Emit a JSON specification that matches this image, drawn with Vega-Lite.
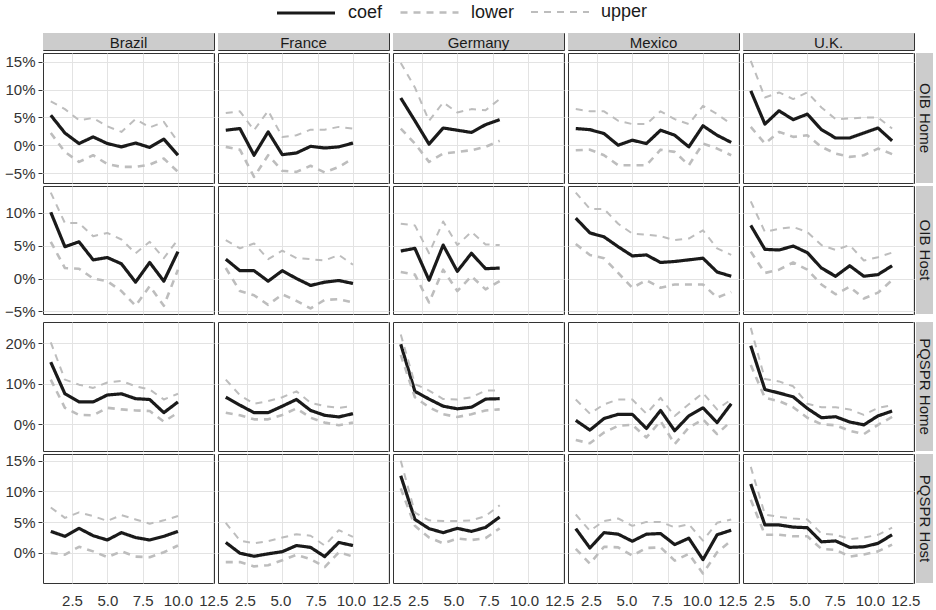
{
"$schema": "https://vega.github.io/schema/vega-lite/v6.json",
"padding": {"left": 4, "top": 1, "right": 0, "bottom": 0},
"datasets": {
"cn": [{"c":"Brazil"},{"c":"France"},{"c":"Germany"},{"c":"Mexico"},{"c":"U.K."}],
"d": [
{"m":"OIB Home","c":"Brazil","x":1,"coef":5.4,"lower":2.2,"upper":7.9},
{"m":"OIB Home","c":"Brazil","x":2,"coef":2.2,"lower":-1.2,"upper":6.5},
{"m":"OIB Home","c":"Brazil","x":3,"coef":0.3,"lower":-3.0,"upper":4.5},
{"m":"OIB Home","c":"Brazil","x":4,"coef":1.5,"lower":-1.8,"upper":4.9},
{"m":"OIB Home","c":"Brazil","x":5,"coef":0.3,"lower":-3.4,"upper":3.4},
{"m":"OIB Home","c":"Brazil","x":6,"coef":-0.3,"lower":-3.9,"upper":2.4},
{"m":"OIB Home","c":"Brazil","x":7,"coef":0.4,"lower":-3.9,"upper":4.7},
{"m":"OIB Home","c":"Brazil","x":8,"coef":-0.4,"lower":-3.5,"upper":3.2},
{"m":"OIB Home","c":"Brazil","x":9,"coef":1.1,"lower":-2.4,"upper":4.2},
{"m":"OIB Home","c":"Brazil","x":10,"coef":-1.8,"lower":-4.8,"upper":0.6},
{"m":"OIB Home","c":"France","x":1,"coef":2.7,"lower":-0.3,"upper":5.8},
{"m":"OIB Home","c":"France","x":2,"coef":3.0,"lower":-0.8,"upper":6.1},
{"m":"OIB Home","c":"France","x":3,"coef":-1.8,"lower":-5.7,"upper":2.7},
{"m":"OIB Home","c":"France","x":4,"coef":2.4,"lower":-1.8,"upper":6.2},
{"m":"OIB Home","c":"France","x":5,"coef":-1.7,"lower":-4.6,"upper":1.5},
{"m":"OIB Home","c":"France","x":6,"coef":-1.4,"lower":-4.8,"upper":1.8},
{"m":"OIB Home","c":"France","x":7,"coef":-0.2,"lower":-3.7,"upper":2.8},
{"m":"OIB Home","c":"France","x":8,"coef":-0.5,"lower":-4.9,"upper":2.8},
{"m":"OIB Home","c":"France","x":9,"coef":-0.3,"lower":-3.9,"upper":3.3},
{"m":"OIB Home","c":"France","x":10,"coef":0.4,"lower":-2.4,"upper":3.0},
{"m":"OIB Home","c":"Germany","x":1,"coef":8.5,"lower":3.0,"upper":14.8},
{"m":"OIB Home","c":"Germany","x":2,"coef":4.4,"lower":0.3,"upper":10.4},
{"m":"OIB Home","c":"Germany","x":3,"coef":0.2,"lower":-3.0,"upper":4.4},
{"m":"OIB Home","c":"Germany","x":4,"coef":3.1,"lower":-1.5,"upper":7.7},
{"m":"OIB Home","c":"Germany","x":5,"coef":2.7,"lower":-1.2,"upper":5.9},
{"m":"OIB Home","c":"Germany","x":6,"coef":2.3,"lower":-0.9,"upper":6.5},
{"m":"OIB Home","c":"Germany","x":7,"coef":3.7,"lower":-0.3,"upper":6.3},
{"m":"OIB Home","c":"Germany","x":8,"coef":4.6,"lower":0.8,"upper":8.3},
{"m":"OIB Home","c":"Mexico","x":1,"coef":3.0,"lower":-0.9,"upper":6.5},
{"m":"OIB Home","c":"Mexico","x":2,"coef":2.8,"lower":-0.8,"upper":6.1},
{"m":"OIB Home","c":"Mexico","x":3,"coef":2.1,"lower":-1.8,"upper":6.1},
{"m":"OIB Home","c":"Mexico","x":4,"coef":0.0,"lower":-3.6,"upper":4.4},
{"m":"OIB Home","c":"Mexico","x":5,"coef":0.9,"lower":-3.6,"upper":3.8},
{"m":"OIB Home","c":"Mexico","x":6,"coef":0.3,"lower":-3.6,"upper":3.8},
{"m":"OIB Home","c":"Mexico","x":7,"coef":2.7,"lower":-0.8,"upper":6.1},
{"m":"OIB Home","c":"Mexico","x":8,"coef":1.8,"lower":-1.2,"upper":4.7},
{"m":"OIB Home","c":"Mexico","x":9,"coef":-0.3,"lower":-3.6,"upper":3.8},
{"m":"OIB Home","c":"Mexico","x":10,"coef":3.5,"lower":0.3,"upper":7.1},
{"m":"OIB Home","c":"Mexico","x":11,"coef":1.8,"lower":-0.6,"upper":5.6},
{"m":"OIB Home","c":"Mexico","x":12,"coef":0.5,"lower":-1.8,"upper":3.8},
{"m":"OIB Home","c":"U.K.","x":1,"coef":9.8,"lower":3.3,"upper":15.2},
{"m":"OIB Home","c":"U.K.","x":2,"coef":3.8,"lower":0.3,"upper":8.6},
{"m":"OIB Home","c":"U.K.","x":3,"coef":6.2,"lower":2.4,"upper":9.5},
{"m":"OIB Home","c":"U.K.","x":4,"coef":4.6,"lower":1.5,"upper":8.3},
{"m":"OIB Home","c":"U.K.","x":5,"coef":5.6,"lower":1.8,"upper":9.5},
{"m":"OIB Home","c":"U.K.","x":6,"coef":2.8,"lower":-0.3,"upper":6.8},
{"m":"OIB Home","c":"U.K.","x":7,"coef":1.3,"lower":-1.5,"upper":4.7},
{"m":"OIB Home","c":"U.K.","x":8,"coef":1.3,"lower":-2.1,"upper":4.8},
{"m":"OIB Home","c":"U.K.","x":9,"coef":2.2,"lower":-1.8,"upper":5.0},
{"m":"OIB Home","c":"U.K.","x":10,"coef":3.1,"lower":-0.6,"upper":5.0},
{"m":"OIB Home","c":"U.K.","x":11,"coef":0.8,"lower":-1.6,"upper":3.0},
{"m":"OIB Host","c":"Brazil","x":1,"coef":10.1,"lower":5.6,"upper":13.1},
{"m":"OIB Host","c":"Brazil","x":2,"coef":4.85,"lower":1.6,"upper":8.45},
{"m":"OIB Host","c":"Brazil","x":3,"coef":5.6,"lower":1.5,"upper":8.45},
{"m":"OIB Host","c":"Brazil","x":4,"coef":2.85,"lower":0.0,"upper":6.45},
{"m":"OIB Host","c":"Brazil","x":5,"coef":3.2,"lower":-0.4,"upper":6.95},
{"m":"OIB Host","c":"Brazil","x":6,"coef":2.25,"lower":-1.9,"upper":5.95},
{"m":"OIB Host","c":"Brazil","x":7,"coef":-0.55,"lower":-4.15,"upper":3.85},
{"m":"OIB Host","c":"Brazil","x":8,"coef":2.45,"lower":-1.15,"upper":5.6},
{"m":"OIB Host","c":"Brazil","x":9,"coef":-0.4,"lower":-4.15,"upper":3.1},
{"m":"OIB Host","c":"Brazil","x":10,"coef":4.1,"lower":1.35,"upper":5.95},
{"m":"OIB Host","c":"France","x":1,"coef":2.95,"lower":1.6,"upper":5.85},
{"m":"OIB Host","c":"France","x":2,"coef":1.2,"lower":-1.9,"upper":4.6},
{"m":"OIB Host","c":"France","x":3,"coef":1.2,"lower":-2.55,"upper":5.35},
{"m":"OIB Host","c":"France","x":4,"coef":-0.4,"lower":-4.0,"upper":2.95},
{"m":"OIB Host","c":"France","x":5,"coef":1.2,"lower":-2.4,"upper":4.25},
{"m":"OIB Host","c":"France","x":6,"coef":0.0,"lower":-3.4,"upper":3.1},
{"m":"OIB Host","c":"France","x":7,"coef":-1.05,"lower":-4.55,"upper":2.95},
{"m":"OIB Host","c":"France","x":8,"coef":-0.55,"lower":-3.25,"upper":2.75},
{"m":"OIB Host","c":"France","x":9,"coef":-0.3,"lower":-3.15,"upper":3.6},
{"m":"OIB Host","c":"France","x":10,"coef":-0.75,"lower":-3.65,"upper":2.1},
{"m":"OIB Host","c":"Germany","x":1,"coef":4.2,"lower":1.0,"upper":8.35},
{"m":"OIB Host","c":"Germany","x":2,"coef":4.6,"lower":0.6,"upper":8.1},
{"m":"OIB Host","c":"Germany","x":3,"coef":-0.25,"lower":-3.65,"upper":3.85},
{"m":"OIB Host","c":"Germany","x":4,"coef":5.1,"lower":1.35,"upper":8.7},
{"m":"OIB Host","c":"Germany","x":5,"coef":1.1,"lower":-1.9,"upper":5.1},
{"m":"OIB Host","c":"Germany","x":6,"coef":3.85,"lower":0.35,"upper":7.1},
{"m":"OIB Host","c":"Germany","x":7,"coef":1.5,"lower":-1.65,"upper":5.2},
{"m":"OIB Host","c":"Germany","x":8,"coef":1.6,"lower":-0.4,"upper":5.1},
{"m":"OIB Host","c":"Mexico","x":1,"coef":9.2,"lower":5.25,"upper":13.1},
{"m":"OIB Host","c":"Mexico","x":2,"coef":6.95,"lower":3.6,"upper":10.6},
{"m":"OIB Host","c":"Mexico","x":3,"coef":6.35,"lower":3.1,"upper":10.6},
{"m":"OIB Host","c":"Mexico","x":4,"coef":4.85,"lower":0.85,"upper":8.35},
{"m":"OIB Host","c":"Mexico","x":5,"coef":3.45,"lower":-1.4,"upper":6.85},
{"m":"OIB Host","c":"Mexico","x":6,"coef":3.6,"lower":-0.25,"upper":6.7},
{"m":"OIB Host","c":"Mexico","x":7,"coef":2.45,"lower":-1.4,"upper":6.45},
{"m":"OIB Host","c":"Mexico","x":8,"coef":2.6,"lower":-0.9,"upper":5.85},
{"m":"OIB Host","c":"Mexico","x":9,"coef":2.85,"lower":-0.9,"upper":6.1},
{"m":"OIB Host","c":"Mexico","x":10,"coef":3.1,"lower":-0.9,"upper":7.35},
{"m":"OIB Host","c":"Mexico","x":11,"coef":1.0,"lower":-2.9,"upper":4.6},
{"m":"OIB Host","c":"Mexico","x":12,"coef":0.35,"lower":-2.05,"upper":3.6},
{"m":"OIB Host","c":"U.K.","x":1,"coef":8.1,"lower":4.1,"upper":11.75},
{"m":"OIB Host","c":"U.K.","x":2,"coef":4.45,"lower":0.85,"upper":7.1},
{"m":"OIB Host","c":"U.K.","x":3,"coef":4.35,"lower":1.35,"upper":7.6},
{"m":"OIB Host","c":"U.K.","x":4,"coef":4.95,"lower":2.45,"upper":7.85},
{"m":"OIB Host","c":"U.K.","x":5,"coef":3.95,"lower":1.35,"upper":7.1},
{"m":"OIB Host","c":"U.K.","x":6,"coef":1.6,"lower":-0.9,"upper":5.1},
{"m":"OIB Host","c":"U.K.","x":7,"coef":0.35,"lower":-2.4,"upper":4.35},
{"m":"OIB Host","c":"U.K.","x":8,"coef":1.95,"lower":-1.25,"upper":5.1},
{"m":"OIB Host","c":"U.K.","x":9,"coef":0.35,"lower":-3.05,"upper":2.75},
{"m":"OIB Host","c":"U.K.","x":10,"coef":0.6,"lower":-2.15,"upper":3.25},
{"m":"OIB Host","c":"U.K.","x":11,"coef":1.95,"lower":-0.25,"upper":3.95},
{"m":"PQSPR Home","c":"Brazil","x":1,"coef":15.3,"lower":11.0,"upper":20.2},
{"m":"PQSPR Home","c":"Brazil","x":2,"coef":7.5,"lower":4.05,"upper":11.0},
{"m":"PQSPR Home","c":"Brazil","x":3,"coef":5.5,"lower":2.3,"upper":9.75},
{"m":"PQSPR Home","c":"Brazil","x":4,"coef":5.5,"lower":2.2,"upper":8.95},
{"m":"PQSPR Home","c":"Brazil","x":5,"coef":7.2,"lower":4.05,"upper":10.3},
{"m":"PQSPR Home","c":"Brazil","x":6,"coef":7.5,"lower":3.65,"upper":10.7},
{"m":"PQSPR Home","c":"Brazil","x":7,"coef":6.3,"lower":3.4,"upper":9.35},
{"m":"PQSPR Home","c":"Brazil","x":8,"coef":6.1,"lower":3.25,"upper":8.55},
{"m":"PQSPR Home","c":"Brazil","x":9,"coef":2.85,"lower":0.65,"upper":6.1},
{"m":"PQSPR Home","c":"Brazil","x":10,"coef":5.5,"lower":2.85,"upper":7.5},
{"m":"PQSPR Home","c":"France","x":1,"coef":6.65,"lower":2.85,"upper":11.0},
{"m":"PQSPR Home","c":"France","x":2,"coef":4.7,"lower":2.2,"upper":7.15},
{"m":"PQSPR Home","c":"France","x":3,"coef":2.85,"lower":1.2,"upper":5.05},
{"m":"PQSPR Home","c":"France","x":4,"coef":2.85,"lower":1.2,"upper":5.7},
{"m":"PQSPR Home","c":"France","x":5,"coef":4.45,"lower":2.3,"upper":6.65},
{"m":"PQSPR Home","c":"France","x":6,"coef":6.1,"lower":3.9,"upper":8.1},
{"m":"PQSPR Home","c":"France","x":7,"coef":3.4,"lower":1.6,"upper":5.3},
{"m":"PQSPR Home","c":"France","x":8,"coef":2.2,"lower":0.4,"upper":4.45},
{"m":"PQSPR Home","c":"France","x":9,"coef":1.8,"lower":-0.25,"upper":4.05},
{"m":"PQSPR Home","c":"France","x":10,"coef":2.6,"lower":0.4,"upper":4.45},
{"m":"PQSPR Home","c":"Germany","x":1,"coef":19.7,"lower":17.1,"upper":22.1},
{"m":"PQSPR Home","c":"Germany","x":2,"coef":8.1,"lower":6.65,"upper":9.9},
{"m":"PQSPR Home","c":"Germany","x":3,"coef":6.2,"lower":4.2,"upper":8.3},
{"m":"PQSPR Home","c":"Germany","x":4,"coef":4.45,"lower":2.45,"upper":6.2},
{"m":"PQSPR Home","c":"Germany","x":5,"coef":3.8,"lower":1.8,"upper":6.1},
{"m":"PQSPR Home","c":"Germany","x":6,"coef":4.2,"lower":2.45,"upper":6.65},
{"m":"PQSPR Home","c":"Germany","x":7,"coef":6.2,"lower":3.4,"upper":8.3},
{"m":"PQSPR Home","c":"Germany","x":8,"coef":6.3,"lower":3.65,"upper":8.3},
{"m":"PQSPR Home","c":"Mexico","x":1,"coef":0.95,"lower":-3.9,"upper":6.1},
{"m":"PQSPR Home","c":"Mexico","x":2,"coef":-1.45,"lower":-4.7,"upper":2.6},
{"m":"PQSPR Home","c":"Mexico","x":3,"coef":1.4,"lower":-2.05,"upper":4.9},
{"m":"PQSPR Home","c":"Mexico","x":4,"coef":2.45,"lower":-0.4,"upper":6.1},
{"m":"PQSPR Home","c":"Mexico","x":5,"coef":2.45,"lower":-0.15,"upper":6.1},
{"m":"PQSPR Home","c":"Mexico","x":6,"coef":-1.05,"lower":-3.25,"upper":2.6},
{"m":"PQSPR Home","c":"Mexico","x":7,"coef":3.4,"lower":0.8,"upper":6.5},
{"m":"PQSPR Home","c":"Mexico","x":8,"coef":-1.6,"lower":-4.9,"upper":2.05},
{"m":"PQSPR Home","c":"Mexico","x":9,"coef":2.05,"lower":-0.8,"upper":4.9},
{"m":"PQSPR Home","c":"Mexico","x":10,"coef":4.05,"lower":1.2,"upper":7.7},
{"m":"PQSPR Home","c":"Mexico","x":11,"coef":0.4,"lower":-2.45,"upper":3.65},
{"m":"PQSPR Home","c":"Mexico","x":12,"coef":5.05,"lower":0.8,"upper":6.1},
{"m":"PQSPR Home","c":"U.K.","x":1,"coef":19.35,"lower":14.6,"upper":23.75},
{"m":"PQSPR Home","c":"U.K.","x":2,"coef":8.55,"lower":6.5,"upper":11.15},
{"m":"PQSPR Home","c":"U.K.","x":3,"coef":7.7,"lower":5.7,"upper":10.55},
{"m":"PQSPR Home","c":"U.K.","x":4,"coef":6.75,"lower":4.2,"upper":9.35},
{"m":"PQSPR Home","c":"U.K.","x":5,"coef":3.9,"lower":1.6,"upper":5.05},
{"m":"PQSPR Home","c":"U.K.","x":6,"coef":1.6,"lower":0.0,"upper":4.2},
{"m":"PQSPR Home","c":"U.K.","x":7,"coef":1.85,"lower":-0.25,"upper":4.2},
{"m":"PQSPR Home","c":"U.K.","x":8,"coef":0.55,"lower":-1.6,"upper":3.65},
{"m":"PQSPR Home","c":"U.K.","x":9,"coef":-0.15,"lower":-2.45,"upper":2.3},
{"m":"PQSPR Home","c":"U.K.","x":10,"coef":2.05,"lower":-0.15,"upper":4.05},
{"m":"PQSPR Home","c":"U.K.","x":11,"coef":3.25,"lower":1.8,"upper":4.7},
{"m":"PQSPR Host","c":"Brazil","x":1,"coef":3.5,"lower":0.0,"upper":7.4},
{"m":"PQSPR Host","c":"Brazil","x":2,"coef":2.7,"lower":-0.3,"upper":5.7},
{"m":"PQSPR Host","c":"Brazil","x":3,"coef":4.0,"lower":1.0,"upper":6.6},
{"m":"PQSPR Host","c":"Brazil","x":4,"coef":2.8,"lower":0.25,"upper":6.0},
{"m":"PQSPR Host","c":"Brazil","x":5,"coef":2.1,"lower":-0.7,"upper":5.2},
{"m":"PQSPR Host","c":"Brazil","x":6,"coef":3.3,"lower":0.25,"upper":6.15},
{"m":"PQSPR Host","c":"Brazil","x":7,"coef":2.5,"lower":-0.6,"upper":5.45},
{"m":"PQSPR Host","c":"Brazil","x":8,"coef":2.1,"lower":-0.7,"upper":4.75},
{"m":"PQSPR Host","c":"Brazil","x":9,"coef":2.7,"lower":0.1,"upper":5.3},
{"m":"PQSPR Host","c":"Brazil","x":10,"coef":3.5,"lower":1.2,"upper":6.0},
{"m":"PQSPR Host","c":"France","x":1,"coef":1.7,"lower":-1.5,"upper":4.9},
{"m":"PQSPR Host","c":"France","x":2,"coef":-0.05,"lower":-1.5,"upper":2.0},
{"m":"PQSPR Host","c":"France","x":3,"coef":-0.55,"lower":-2.2,"upper":1.55},
{"m":"PQSPR Host","c":"France","x":4,"coef":-0.15,"lower":-2.0,"upper":1.9},
{"m":"PQSPR Host","c":"France","x":5,"coef":0.2,"lower":-1.2,"upper":2.5},
{"m":"PQSPR Host","c":"France","x":6,"coef":1.2,"lower":-0.3,"upper":3.05},
{"m":"PQSPR Host","c":"France","x":7,"coef":0.9,"lower":-1.0,"upper":2.8},
{"m":"PQSPR Host","c":"France","x":8,"coef":-0.6,"lower":-2.3,"upper":1.2},
{"m":"PQSPR Host","c":"France","x":9,"coef":1.7,"lower":0.1,"upper":3.7},
{"m":"PQSPR Host","c":"France","x":10,"coef":1.2,"lower":-0.6,"upper":2.6},
{"m":"PQSPR Host","c":"Germany","x":1,"coef":12.55,"lower":10.5,"upper":15.0},
{"m":"PQSPR Host","c":"Germany","x":2,"coef":5.45,"lower":4.4,"upper":6.55},
{"m":"PQSPR Host","c":"Germany","x":3,"coef":3.95,"lower":2.5,"upper":5.3},
{"m":"PQSPR Host","c":"Germany","x":4,"coef":3.3,"lower":1.55,"upper":5.2},
{"m":"PQSPR Host","c":"Germany","x":5,"coef":4.0,"lower":2.35,"upper":5.2},
{"m":"PQSPR Host","c":"Germany","x":6,"coef":3.5,"lower":2.1,"upper":5.3},
{"m":"PQSPR Host","c":"Germany","x":7,"coef":4.15,"lower":2.4,"upper":6.0},
{"m":"PQSPR Host","c":"Germany","x":8,"coef":5.85,"lower":4.0,"upper":7.75},
{"m":"PQSPR Host","c":"Mexico","x":1,"coef":3.95,"lower":0.65,"upper":6.25},
{"m":"PQSPR Host","c":"Mexico","x":2,"coef":0.8,"lower":-1.75,"upper":3.6},
{"m":"PQSPR Host","c":"Mexico","x":3,"coef":3.3,"lower":1.0,"upper":5.2},
{"m":"PQSPR Host","c":"Mexico","x":4,"coef":3.05,"lower":0.9,"upper":5.6},
{"m":"PQSPR Host","c":"Mexico","x":5,"coef":1.9,"lower":-0.45,"upper":4.4},
{"m":"PQSPR Host","c":"Mexico","x":6,"coef":3.05,"lower":0.8,"upper":5.05},
{"m":"PQSPR Host","c":"Mexico","x":7,"coef":3.15,"lower":0.9,"upper":5.05},
{"m":"PQSPR Host","c":"Mexico","x":8,"coef":1.35,"lower":-1.25,"upper":4.15},
{"m":"PQSPR Host","c":"Mexico","x":9,"coef":2.4,"lower":-0.15,"upper":4.65},
{"m":"PQSPR Host","c":"Mexico","x":10,"coef":-1.1,"lower":-3.35,"upper":2.0},
{"m":"PQSPR Host","c":"Mexico","x":11,"coef":2.95,"lower":0.1,"upper":4.9},
{"m":"PQSPR Host","c":"Mexico","x":12,"coef":3.7,"lower":2.0,"upper":5.45},
{"m":"PQSPR Host","c":"U.K.","x":1,"coef":11.2,"lower":8.65,"upper":14.0},
{"m":"PQSPR Host","c":"U.K.","x":2,"coef":4.55,"lower":2.95,"upper":6.25},
{"m":"PQSPR Host","c":"U.K.","x":3,"coef":4.55,"lower":2.95,"upper":5.85},
{"m":"PQSPR Host","c":"U.K.","x":4,"coef":4.2,"lower":2.7,"upper":5.6},
{"m":"PQSPR Host","c":"U.K.","x":5,"coef":4.1,"lower":2.7,"upper":5.45},
{"m":"PQSPR Host","c":"U.K.","x":6,"coef":1.8,"lower":0.65,"upper":3.15},
{"m":"PQSPR Host","c":"U.K.","x":7,"coef":1.95,"lower":0.5,"upper":2.95},
{"m":"PQSPR Host","c":"U.K.","x":8,"coef":0.9,"lower":-0.6,"upper":2.25},
{"m":"PQSPR Host","c":"U.K.","x":9,"coef":1.0,"lower":-0.25,"upper":2.5},
{"m":"PQSPR Host","c":"U.K.","x":10,"coef":1.55,"lower":0.25,"upper":2.95},
{"m":"PQSPR Host","c":"U.K.","x":11,"coef":2.95,"lower":1.35,"upper":4.1}
]
},
"vconcat": [
{
 "hconcat": [
  {
   "data": {"name": "cn"},
   "facet": {"column": {"field": "c", "type": "nominal", "header": null}},
   "spacing": 2,
   "spec": {
    "width": 171, "height": 17,
    "layer": [
     {"mark": {"type": "rect", "fill": "#cccccc", "strokeWidth": 0}, "encoding": {}},
     {"mark": {"type": "text", "fontSize": 15, "color": "#1a1a1a", "baseline": "middle", "dy": 1},
      "encoding": {
       "text": {"field": "c", "type": "nominal"},
       "y": {"datum": 0, "type": "quantitative", "scale": {"domain": [-1, 1], "nice": false, "zero": false}, "axis": {"values": [0], "labelExpr": "'−5%'", "labelOpacity": 0, "tickOpacity": 0, "grid": false, "title": null}}
      }}
    ]
   }
  },
  {
   "data": {"values": [{"m": ""}]},
   "width": 17, "height": 17,
   "view": {"stroke": null},
   "mark": {"type": "rect", "fill": "#ffffff", "opacity": 0},
   "encoding": {}
  }
 ],
 "spacing": 1
},
{
 "hconcat": [
  {
   "data": {"name": "d"},
   "transform": [{"filter": "datum.m === 'OIB Home'"}, {"fold": ["coef", "lower", "upper"], "as": ["key", "v"]}],
   "facet": {"column": {"field": "c", "type": "nominal", "header": null}},
   "spacing": 2,
   "spec": {
    "width": 171, "height": 130,
    "mark": {"type": "line", "strokeJoin": "round"},
    "encoding": {
     "x": {"field": "x", "type": "quantitative", "scale": {"domain": [0.45, 12.55], "nice": false, "zero": false}, "axis": {"values": [2.5, 5, 7.5, 10, 12.5], "labels": false, "ticks": false, "title": null, "minExtent": 0, "maxExtent": 0}},
     "y": {"field": "v", "type": "quantitative", "scale": {"domain": [-6.8, 16.6], "nice": false, "zero": false}, "axis": {"values": [-5, 0, 5, 10, 15], "labelExpr": "datum.label + '%'", "title": null}},
     "color": {"field": "key", "type": "nominal", "title": null, "scale": {"domain": ["coef", "lower", "upper"], "range": ["#1a1a1a", "#bdbdbd", "#bdbdbd"]}},
     "strokeDash": {"field": "key", "type": "nominal", "title": null, "scale": {"domain": ["coef", "lower", "upper"], "range": [[1, 0], [7, 6], [7, 6]]}},
     "strokeWidth": {"field": "key", "type": "ordinal", "title": null, "scale": {"domain": ["coef", "lower", "upper"], "range": [3.2, 2, 2]}}
    }
   }
  },
  {
   "data": {"values": [{"m": "OIB Home"}]},
   "width": 17, "height": 130,
   "layer": [
    {"mark": {"type": "rect", "fill": "#cccccc", "strokeWidth": 0}, "encoding": {}},
    {"mark": {"type": "text", "fontSize": 15, "color": "#1a1a1a", "angle": 90, "baseline": "middle"}, "encoding": {"text": {"field": "m", "type": "nominal"}}}
   ]
  }
 ],
 "spacing": 1
},
{
 "hconcat": [
  {
   "data": {"name": "d"},
   "transform": [{"filter": "datum.m === 'OIB Host'"}, {"fold": ["coef", "lower", "upper"], "as": ["key", "v"]}],
   "facet": {"column": {"field": "c", "type": "nominal", "header": null}},
   "spacing": 2,
   "spec": {
    "width": 171, "height": 128,
    "mark": {"type": "line", "strokeJoin": "round"},
    "encoding": {
     "x": {"field": "x", "type": "quantitative", "scale": {"domain": [0.45, 12.55], "nice": false, "zero": false}, "axis": {"values": [2.5, 5, 7.5, 10, 12.5], "labels": false, "ticks": false, "title": null, "minExtent": 0, "maxExtent": 0}},
     "y": {"field": "v", "type": "quantitative", "scale": {"domain": [-5.4, 14.1], "nice": false, "zero": false}, "axis": {"values": [-5, 0, 5, 10], "labelExpr": "datum.label + '%'", "title": null}},
     "color": {"field": "key", "type": "nominal", "title": null, "scale": {"domain": ["coef", "lower", "upper"], "range": ["#1a1a1a", "#bdbdbd", "#bdbdbd"]}},
     "strokeDash": {"field": "key", "type": "nominal", "title": null, "scale": {"domain": ["coef", "lower", "upper"], "range": [[1, 0], [7, 6], [7, 6]]}},
     "strokeWidth": {"field": "key", "type": "ordinal", "title": null, "scale": {"domain": ["coef", "lower", "upper"], "range": [3.2, 2, 2]}}
    }
   }
  },
  {
   "data": {"values": [{"m": "OIB Host"}]},
   "width": 17, "height": 128,
   "layer": [
    {"mark": {"type": "rect", "fill": "#cccccc", "strokeWidth": 0}, "encoding": {}},
    {"mark": {"type": "text", "fontSize": 15, "color": "#1a1a1a", "angle": 90, "baseline": "middle"}, "encoding": {"text": {"field": "m", "type": "nominal"}}}
   ]
  }
 ],
 "spacing": 1
},
{
 "hconcat": [
  {
   "data": {"name": "d"},
   "transform": [{"filter": "datum.m === 'PQSPR Home'"}, {"fold": ["coef", "lower", "upper"], "as": ["key", "v"]}],
   "facet": {"column": {"field": "c", "type": "nominal", "header": null}},
   "spacing": 2,
   "spec": {
    "width": 171, "height": 129,
    "mark": {"type": "line", "strokeJoin": "round"},
    "encoding": {
     "x": {"field": "x", "type": "quantitative", "scale": {"domain": [0.45, 12.55], "nice": false, "zero": false}, "axis": {"values": [2.5, 5, 7.5, 10, 12.5], "labels": false, "ticks": false, "title": null, "minExtent": 0, "maxExtent": 0}},
     "y": {"field": "v", "type": "quantitative", "scale": {"domain": [-6.6, 25.2], "nice": false, "zero": false}, "axis": {"values": [0, 10, 20], "labelExpr": "datum.label + '%'", "title": null}},
     "color": {"field": "key", "type": "nominal", "title": null, "scale": {"domain": ["coef", "lower", "upper"], "range": ["#1a1a1a", "#bdbdbd", "#bdbdbd"]}},
     "strokeDash": {"field": "key", "type": "nominal", "title": null, "scale": {"domain": ["coef", "lower", "upper"], "range": [[1, 0], [7, 6], [7, 6]]}},
     "strokeWidth": {"field": "key", "type": "ordinal", "title": null, "scale": {"domain": ["coef", "lower", "upper"], "range": [3.2, 2, 2]}}
    }
   }
  },
  {
   "data": {"values": [{"m": "PQSPR Home"}]},
   "width": 17, "height": 129,
   "layer": [
    {"mark": {"type": "rect", "fill": "#cccccc", "strokeWidth": 0}, "encoding": {}},
    {"mark": {"type": "text", "fontSize": 15, "color": "#1a1a1a", "angle": 90, "baseline": "middle"}, "encoding": {"text": {"field": "m", "type": "nominal"}}}
   ]
  }
 ],
 "spacing": 1
},
{
 "hconcat": [
  {
   "data": {"name": "d"},
   "transform": [{"filter": "datum.m === 'PQSPR Host'"}, {"fold": ["coef", "lower", "upper"], "as": ["key", "v"]}],
   "facet": {"column": {"field": "c", "type": "nominal", "header": null}},
   "spacing": 2,
   "spec": {
    "width": 171, "height": 129,
    "mark": {"type": "line", "strokeJoin": "round"},
    "encoding": {
     "x": {"field": "x", "type": "quantitative", "scale": {"domain": [0.45, 12.55], "nice": false, "zero": false}, "axis": {"values": [2.5, 5, 7.5, 10, 12.5], "labels": false, "ticks": false, "title": null, "minExtent": 0, "maxExtent": 0}},
     "y": {"field": "v", "type": "quantitative", "scale": {"domain": [-4.9, 16.1], "nice": false, "zero": false}, "axis": {"values": [0, 5, 10, 15], "labelExpr": "datum.label + '%'", "title": null}},
     "color": {"field": "key", "type": "nominal", "title": null, "scale": {"domain": ["coef", "lower", "upper"], "range": ["#1a1a1a", "#bdbdbd", "#bdbdbd"]}},
     "strokeDash": {"field": "key", "type": "nominal", "title": null, "scale": {"domain": ["coef", "lower", "upper"], "range": [[1, 0], [7, 6], [7, 6]]}},
     "strokeWidth": {"field": "key", "type": "ordinal", "title": null, "scale": {"domain": ["coef", "lower", "upper"], "range": [3.2, 2, 2]}}
    }
   }
  },
  {
   "data": {"values": [{"m": "PQSPR Host"}]},
   "width": 17, "height": 129,
   "layer": [
    {"mark": {"type": "rect", "fill": "#cccccc", "strokeWidth": 0}, "encoding": {}},
    {"mark": {"type": "text", "fontSize": 15, "color": "#1a1a1a", "angle": 90, "baseline": "middle"}, "encoding": {"text": {"field": "m", "type": "nominal"}}}
   ]
  }
 ],
 "spacing": 1
},
{
 "hconcat": [
  {
   "data": {"name": "cn"},
   "facet": {"column": {"field": "c", "type": "nominal", "header": null}},
   "spacing": 2,
   "spec": {
    "width": 171, "height": 1,
    "view": {"stroke": null},
    "mark": {"type": "point", "opacity": 0},
    "encoding": {
     "x": {"datum": 1, "type": "quantitative", "scale": {"domain": [0.45, 12.55], "nice": false, "zero": false}, "axis": {"values": [2.5, 5, 7.5, 10, 12.5], "format": ".1f", "title": null, "grid": false, "ticks": false, "labelPadding": 1, "labelFontSize": 15, "labelOverlap": false, "labelFlush": false}},
     "y": {"datum": 0, "type": "quantitative", "scale": {"domain": [-1, 1], "nice": false, "zero": false}, "axis": {"values": [0], "labelExpr": "'−5%'", "labelOpacity": 0, "labelBaseline": "top", "tickOpacity": 0, "grid": false, "title": null}}
    }
   }
  },
  {
   "data": {"values": [{"m": ""}]},
   "width": 17, "height": 1,
   "view": {"stroke": null},
   "mark": {"type": "rect", "fill": "#ffffff", "opacity": 0},
   "encoding": {}
  }
 ],
 "spacing": 1
}
],
"spacing": 1,
"config": {
 "font": "Liberation Sans",
 "view": {"stroke": "#333333", "strokeWidth": 1},
 "axis": {"gridColor": "#e3e3e3", "gridWidth": 1, "tickColor": "#333333", "tickSize": 4, "labelColor": "#333333", "labelFontSize": 15, "domain": false, "labelPadding": 3},
 "legend": {"orient": "top", "direction": "horizontal", "symbolType": "M-2.9,0H2.9", "symbolSize": 400, "labelFontSize": 18, "labelColor": "#1a1a1a", "columnPadding": 12, "gridAlign": "none", "labelOffset": 30, "offset": 10, "padding": 0, "layout": {"top": {"anchor": "middle"}}}
}
}
